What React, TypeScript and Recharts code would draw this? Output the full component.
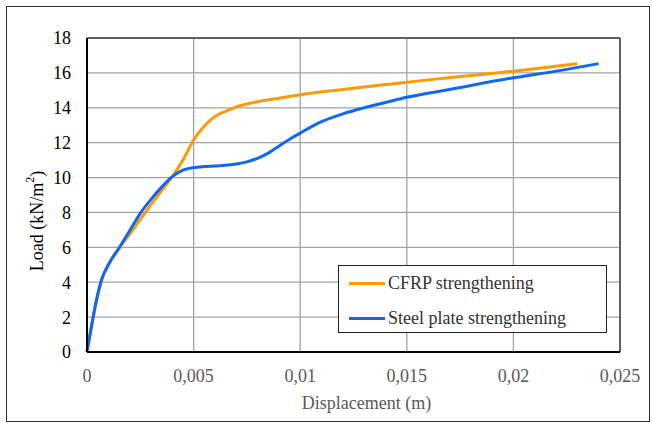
import React from 'react';
import { LineChart, Line, XAxis, YAxis, CartesianGrid, ReferenceLine } from 'recharts';

// displacement (m) / load (kN/m2)
const cfrpX = [0, 0.0002, 0.0004, 0.0007, 0.001, 0.0015, 0.002, 0.0025, 0.003, 0.0035, 0.004, 0.0045, 0.005, 0.0055, 0.006, 0.0065, 0.007, 0.008, 0.009, 0.01, 0.012, 0.014, 0.016, 0.018, 0.02, 0.023];
const cfrpY = [0, 1.4, 2.6, 4.2, 5.0, 5.95, 6.75, 7.6, 8.45, 9.25, 10.05, 11.0, 12.15, 12.95, 13.5, 13.8, 14.05, 14.35, 14.55, 14.75, 15.05, 15.33, 15.6, 15.85, 16.1, 16.52];

const steelX = [0, 0.0002, 0.0004, 0.0007, 0.001, 0.0015, 0.002, 0.0025, 0.003, 0.0035, 0.004, 0.0045, 0.005, 0.0055, 0.006, 0.0065, 0.007, 0.0075, 0.008, 0.0085, 0.009, 0.0095, 0.01, 0.011, 0.012, 0.013, 0.014, 0.015, 0.017, 0.02, 0.022, 0.024];
const steelY = [0, 1.4, 2.75, 4.2, 5.0, 5.95, 6.95, 7.95, 8.75, 9.45, 10.05, 10.42, 10.57, 10.63, 10.66, 10.7, 10.78, 10.9, 11.1, 11.4, 11.8, 12.2, 12.55, 13.2, 13.65, 14.0, 14.3, 14.6, 15.05, 15.72, 16.1, 16.53];

const seriesNames = ['CFRP strengthening', 'Steel plate strengthening'];
const seriesColors = ['#FF9A05', '#0F68F2'];

const xTicks = [0, 0.005, 0.01, 0.015, 0.02, 0.025];
const yTicks = [0, 2, 4, 6, 8, 10, 12, 14, 16, 18];

const cfrp = cfrpX.map((x, i) => ({ x, y: cfrpY[i] }));
const steel = steelX.map((x, i) => ({ x, y: steelY[i] }));

const font = "'Liberation Serif', Tinos, 'Times New Roman', 'DejaVu Serif', serif";

const YLabel = () => (
  <text
    x={37}
    y={221}
    transform="rotate(-90, 37, 221)"
    textAnchor="middle"
    dominantBaseline="central"
    style={{ fontFamily: font, fontSize: 18 }}
    fill="#000"
  >
    Load (kN/m<tspan dy={-7} fontSize={12}>2</tspan><tspan dy={7}>)</tspan>
  </text>
);

const App = () => {
  return (
    <div style={{ position: 'absolute', left: 0, top: 0, width: 652, height: 423, background: '#fff', fontFamily: font }}>
      <div style={{ position: 'absolute', left: 6, top: 6, width: 642, height: 414, border: '1px solid #333' }} />
      <div style={{ position: 'absolute', left: 0, top: 0 }}>
        <LineChart width={652} height={423} margin={{ top: 38, right: 32, left: 0, bottom: 0 }} style={{ fontFamily: font }}>
          <CartesianGrid stroke="#a3a3a3" strokeWidth={1.3} />
          <XAxis
            type="number"
            dataKey="x"
            domain={[0, 0.025]}
            ticks={xTicks}
            height={71}
            tickLine={false}
            tickSize={0}
            tickMargin={17}
            axisLine={{ stroke: '#000', strokeWidth: 2 }}
            tick={{ fill: '#595959', fontSize: 18, style: { fontFamily: font } }}
            tickFormatter={(v: number) => String(v).replace('.', ',')}
            label={{ value: 'Displacement (m)', position: 'insideBottom', offset: 14, dx: 13, fill: '#595959', fontSize: 18, style: { fontFamily: font } }}
          />
          <YAxis
            type="number"
            dataKey="y"
            domain={[0, 18]}
            ticks={yTicks}
            width={87}
            tickLine={false}
            tickSize={0}
            tickMargin={16}
            axisLine={{ stroke: '#000', strokeWidth: 2 }}
            tick={{ fill: '#000', fontSize: 18, style: { fontFamily: font } }}
          />
          <ReferenceLine y={18} stroke="#404040" strokeWidth={1.5} />
          <ReferenceLine x={0.025} stroke="#404040" strokeWidth={1.5} />
          <Line data={cfrp} dataKey="y" name={seriesNames[0]} type="monotone" stroke={seriesColors[0]} strokeWidth={3} dot={false} isAnimationActive={false} />
          <Line data={steel} dataKey="y" name={seriesNames[1]} type="monotone" stroke={seriesColors[1]} strokeWidth={3} dot={false} isAnimationActive={false} />
          <YLabel />
        </LineChart>
      </div>
      <div
        style={{
          position: 'absolute',
          left: 338,
          top: 265,
          width: 267,
          height: 66,
          border: '1px solid #222',
          background: '#fff',
        }}
      >
        {seriesNames.map((n, i) => (
          <div key={n} style={{ position: 'absolute', left: 10, top: 5 + i * 35, height: 24, display: 'flex', alignItems: 'center', whiteSpace: 'nowrap' }}>
            <div style={{ width: 36, height: 3, background: seriesColors[i] }} />
            <span style={{ marginLeft: 3, fontSize: 18, color: '#333', fontFamily: font }}>{n}</span>
          </div>
        ))}
      </div>
    </div>
  );
};

export default App;
